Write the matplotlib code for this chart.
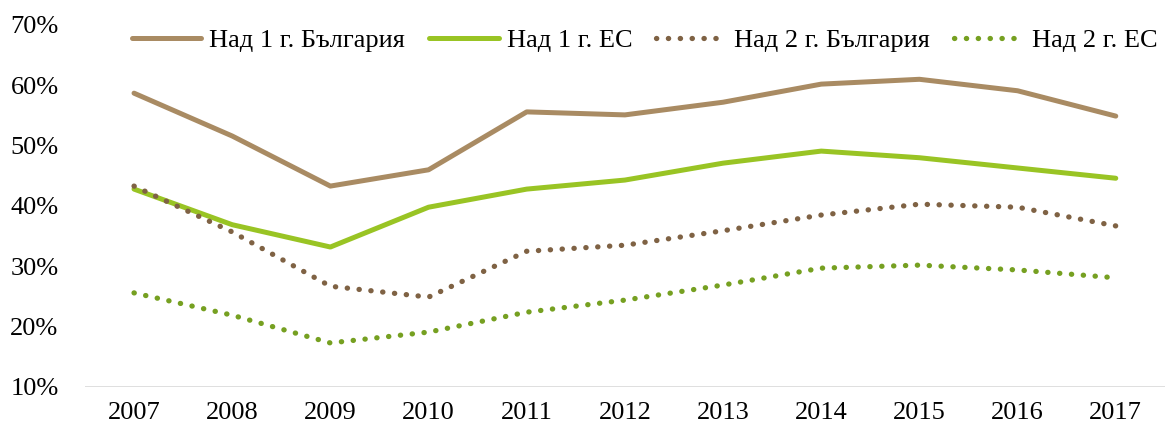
import numpy as np
import matplotlib
matplotlib.use("Agg")
import matplotlib.pyplot as plt
from matplotlib.ticker import PercentFormatter

years = ["2007", "2008", "2009", "2010", "2011", "2012", "2013", "2014", "2015", "2016", "2017"]
bg_1y = [58.7, 51.6, 43.3, 46.0, 55.6, 55.1, 57.2, 60.2, 61.0, 59.1, 54.9]
eu_1y = [42.8, 36.9, 33.2, 39.8, 42.8, 44.3, 47.1, 49.1, 48.0, 46.3, 44.6]
bg_2y = [43.3, 35.7, 26.7, 24.9, 32.5, 33.5, 35.9, 38.5, 40.3, 39.8, 36.7]
eu_2y = [25.6, 21.9, 17.3, 19.1, 22.4, 24.4, 26.9, 29.7, 30.2, 29.4, 28.1]

labels = ["Над 1 г. България", "Над 1 г. ЕС", "Над 2 г. България", "Над 2 г. ЕС"]

plt.rcParams["font.family"] = ["Liberation Serif", "DejaVu Serif"]

fig = plt.figure(figsize=(11.7, 4.28), dpi=100)
ax = fig.add_axes([0.0726, 0.0958, 0.923, 0.8458])

x = np.arange(len(years))
dots = (0, (0.05, 2.2))
ax.plot(x, bg_1y, color="#A98B63", lw=3.6, solid_capstyle="round", label=labels[0])
ax.plot(x, eu_1y, color="#99C424", lw=3.6, solid_capstyle="round", label=labels[1])
ax.plot(x, bg_2y, color="#7F6244", lw=3.8, linestyle=dots,
        dash_capstyle="round", label=labels[2])
ax.plot(x, eu_2y, color="#76A021", lw=3.8, linestyle=dots,
        dash_capstyle="round", label=labels[3])

ax.set_ylim(10, 70)
ax.set_xlim(-0.5, 10.5)
ax.set_yticks(np.arange(10, 71, 10))
ax.yaxis.set_major_formatter(PercentFormatter(decimals=0))
ax.set_xticks(x)
ax.set_xticklabels(years)
ax.tick_params(length=0, labelsize=19, colors="black")
ax.tick_params(axis="x", pad=11)
ax.tick_params(axis="y", pad=19)
for s in ax.spines.values():
    s.set_visible(False)
ax.axhline(10, color="#D9D9D9", lw=1.2, zorder=0)

ax.legend(loc="upper center", bbox_to_anchor=(0.518, 1.056), ncol=4, frameon=False,
          fontsize=19, handlelength=2.65, handletextpad=0.3, columnspacing=0.9)

fig.savefig("out.png", dpi=100)
